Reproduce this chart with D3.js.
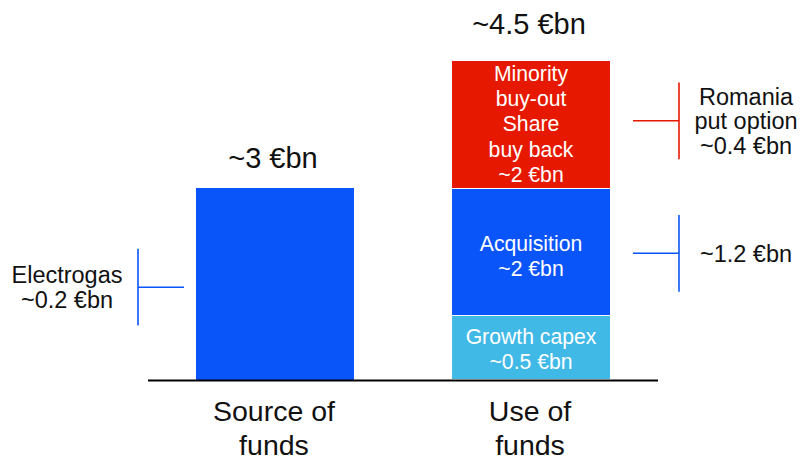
<!DOCTYPE html>
<html><head><meta charset="utf-8">
<script src="https://cdn.jsdelivr.net/npm/d3@7"></script>
<style>body{margin:0;background:#fff}svg{display:block;font-family:"Liberation Sans",Arial,sans-serif}</style>
</head><body><svg id="c" width="803" height="460"></svg>
<script>
const categories = ["Source of funds", "Use of funds"];
const categoryLines = [["Source of", "funds"], ["Use of", "funds"]];
const totalLabels = ["~3 €bn", "~4.5 €bn"];
// drawn segment heights (visual units) as shown in the picture
const sourceValues = [3];
const useSegments = ["Growth capex", "Acquisition", "Minority buy-out / Share buy back"];
const useValues = [1, 2, 2];
const useSegmentLines = [["Growth capex", "~0.5 €bn"], ["Acquisition", "~2 €bn"], ["Minority", "buy-out", "Share", "buy back", "~2 €bn"]];
const bracketLabels = [["Romania", "put option", "~0.4 €bn"], ["~1.2 €bn"], ["Electrogas", "~0.2 €bn"]];
const bracketCenters = [4.05, 1.98, 1.45];
const bracketSide = ["right", "right", "left"];

const colors = {source: "#0A55FA", seg: ["#41B9E6", "#0A55FA", "#E61900"], red: "#E61900", blue: "#0A55FA"};

const svg = d3.select("#c");
const x = d3.scaleBand().domain(categories).range([147, 659]).paddingInner(0.383).paddingOuter(0.1914);
const y = d3.scaleLinear().domain([0, 5]).range([380, 60]);

// source bar
svg.append("rect").attr("x", x(categories[0])).attr("width", x.bandwidth())
  .attr("y", y(sourceValues[0])).attr("height", y(0) - y(sourceValues[0])).attr("fill", colors.source);

// use stacked
let cum = 0;
const segs = useValues.map((v, i) => { const s = {i, y0: cum, y1: cum + v}; cum += v; return s; });
const ux = x(categories[1]);
svg.selectAll(".seg").data(segs).enter().append("rect")
  .attr("x", ux).attr("width", x.bandwidth())
  .attr("y", d => y(d.y1) + (d.i > 0 ? 1 : 0))
  .attr("height", d => y(d.y0) - y(d.y1) - (d.i > 0 ? 1 : 0) - (d.i < segs.length - 1 ? 1 : 0))
  .attr("fill", d => colors.seg[d.i]);

// segment labels
const segLabelShift = [1, 4, 0];
segs.forEach(d => {
  const lines = useSegmentLines[d.i];
  const cy = (y(d.y0) + y(d.y1)) / 2 + segLabelShift[d.i];
  const lh = 25.3;
  lines.forEach((t, k) => {
    svg.append("text").attr("x", ux + x.bandwidth() / 2)
      .attr("y", cy + (k - (lines.length - 1) / 2) * lh).attr("dy", "0.35em")
      .attr("text-anchor", "middle").attr("fill", "#fff").attr("font-size", 21.2).text(t);
  });
});

// totals
const totalOffsets = [20, 26];
totalLabels.forEach((t, i) => {
  const top = i === 0 ? y(sourceValues[0]) : y(cum);
  svg.append("text").attr("x", x(categories[i]) + x.bandwidth() / 2 - 2)
    .attr("y", top - totalOffsets[i]).attr("text-anchor", "middle").attr("font-size", 29).attr("fill", "#111").text(t);
});

// baseline
svg.append("line").attr("x1", 148).attr("x2", 658).attr("y1", y(0) + 0.5).attr("y2", y(0) + 0.5)
  .attr("stroke", "#000").attr("stroke-width", 2);

// category labels
categoryLines.forEach((lines, i) => {
  lines.forEach((t, k) => {
    svg.append("text").attr("x", x(categories[i]) + x.bandwidth() / 2 - 1)
      .attr("y", 421 + k * 34).attr("text-anchor", "middle").attr("font-size", 28.5).attr("fill", "#111").text(t);
  });
});

// brackets
const half = 0.6;
bracketCenters.forEach((c, i) => {
  const col = i === 0 ? colors.red : colors.blue;
  const g = svg.append("g");
  const right = bracketSide[i] === "right";
  const vx = right ? 679 : 138;
  const hx1 = right ? 633 : 138, hx2 = right ? 679 : 184;
  g.append("line").attr("x1", vx).attr("x2", vx).attr("y1", y(c + half)).attr("y2", y(c - half)).attr("stroke", col).attr("stroke-width", 1.6);
  g.append("line").attr("x1", hx1).attr("x2", hx2).attr("y1", y(c)).attr("y2", y(c)).attr("stroke", col).attr("stroke-width", 1.6);
  const lines = bracketLabels[i];
  const tx = right ? 746 : 67;
  lines.forEach((t, k) => {
    g.append("text").attr("x", tx).attr("y", y(c) + (k - (lines.length - 1) / 2) * 24.5).attr("dy", "0.35em")
      .attr("text-anchor", "middle").attr("font-size", 23.5).attr("fill", "#111").text(t);
  });
});
</script></body></html>
